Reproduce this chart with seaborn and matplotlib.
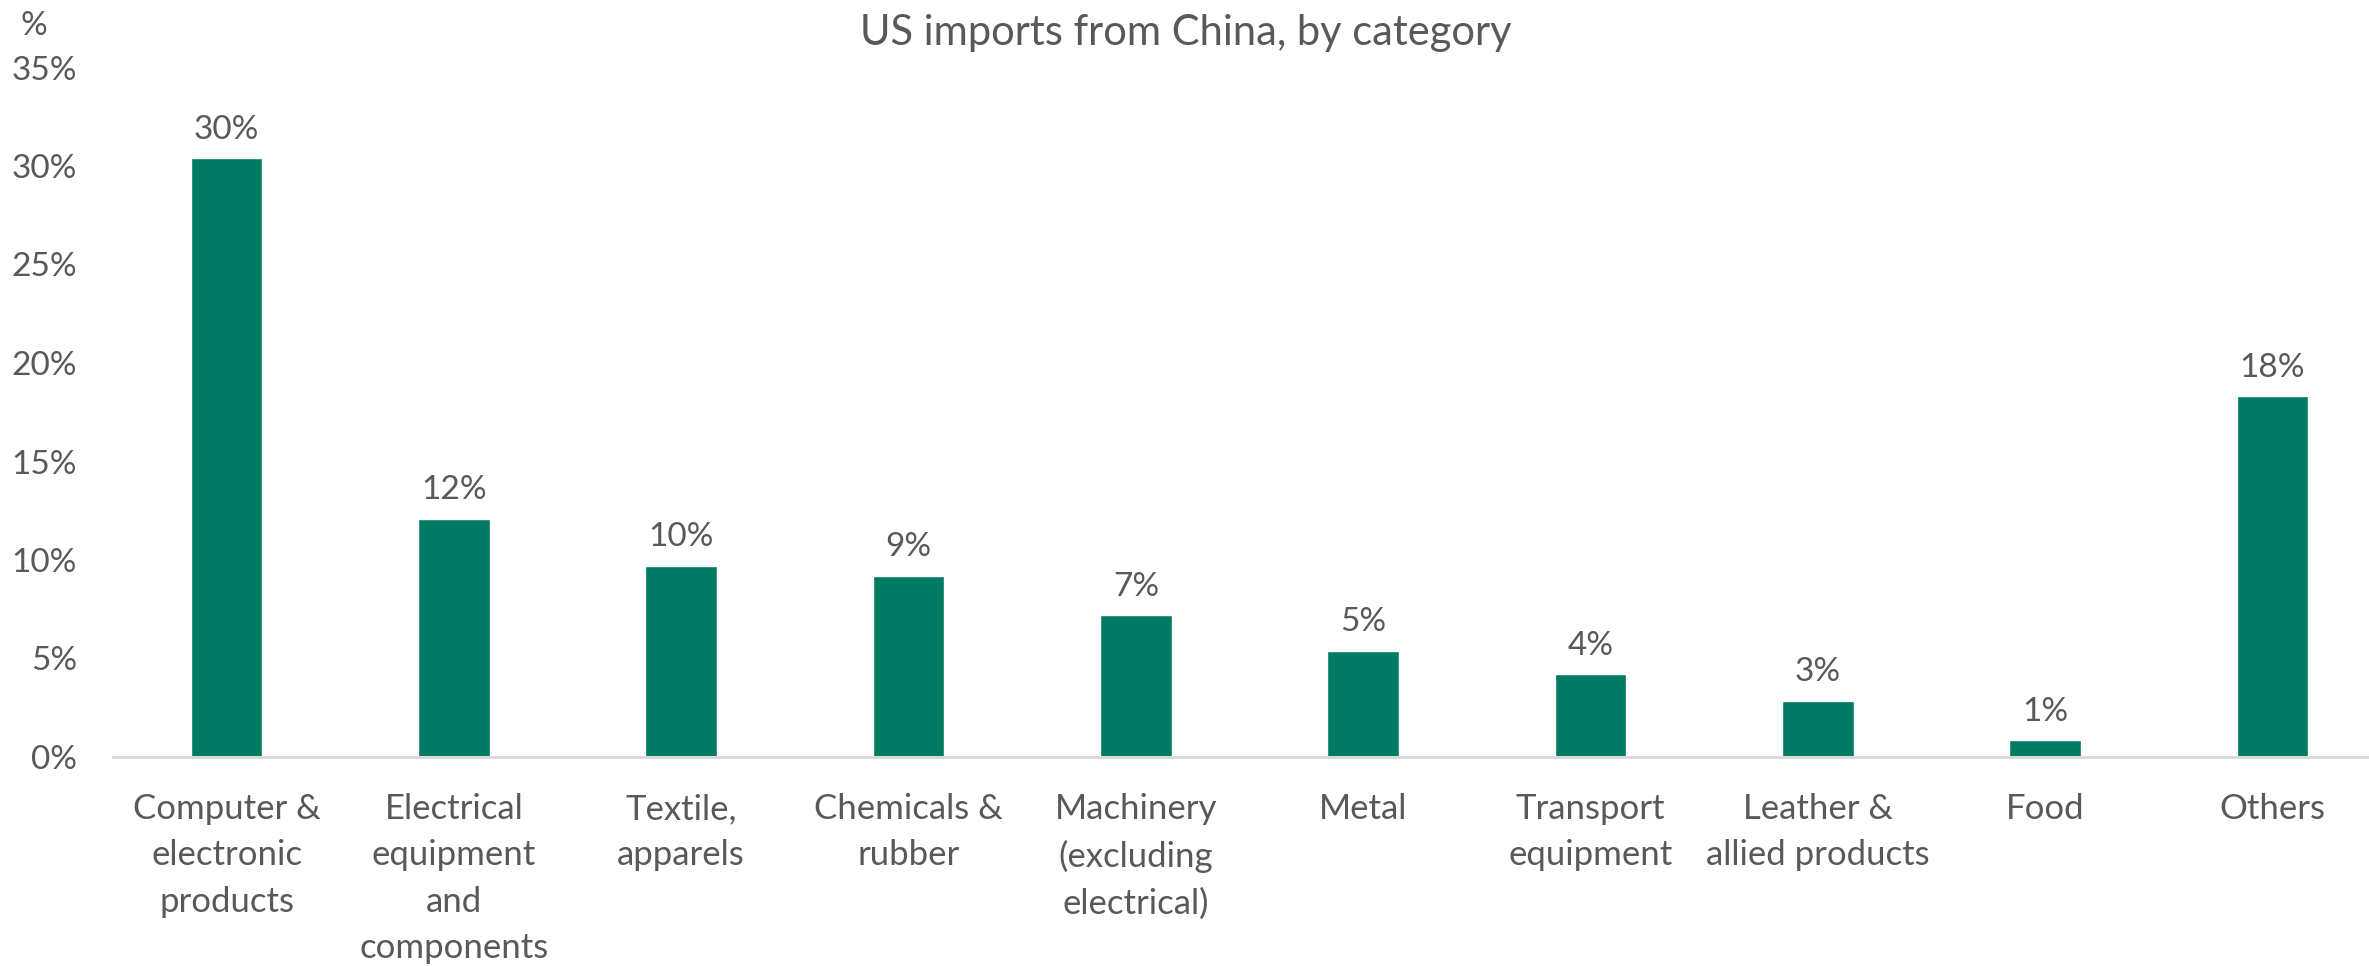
import matplotlib
matplotlib.use("Agg")
import matplotlib.pyplot as plt
import seaborn as sns
import pandas as pd

categories = [
    "Computer &\nelectronic\nproducts",
    "Electrical\nequipment\nand\ncomponents",
    "Textile,\napparels",
    "Chemicals &\nrubber",
    "Machinery\n(excluding\nelectrical)",
    "Metal",
    "Transport\nequipment",
    "Leather &\nallied products",
    "Food",
    "Others",
]
values = [30.4, 12.1, 9.7, 9.2, 7.2, 5.4, 4.2, 2.85, 0.86, 18.3]
labels = ["30%", "12%", "10%", "9%", "7%", "5%", "4%", "3%", "1%", "18%"]
yticks = [0, 5, 10, 15, 20, 25, 30, 35]
ytick_labels = ["0%", "5%", "10%", "15%", "20%", "25%", "30%", "35%"]

sns.set_theme(style="white")
plt.rcParams["font.family"] = ["Lato", "DejaVu Sans"]
TXT = "#595959"
BAR = "#007B63"

df = pd.DataFrame({"category": categories, "value": values})

fig = plt.figure(figsize=(23.69, 9.66), dpi=100)
ax = fig.add_axes([113 / 2369, (966 - 757) / 966, 2256 / 2369, (757 - 67.5) / 966])

sns.barplot(data=df, x="category", y="value", color=BAR, width=0.315,
            saturation=1, ax=ax)

ax.set_xlim(-0.5, -0.5 + 2256 / 227.3)
ax.set_ylim(0, 35)
ax.set_yticks(yticks)
ax.set_yticklabels(ytick_labels)
ax.set_xlabel("")
ax.set_ylabel("")

for s in ["top", "right", "left"]:
    ax.spines[s].set_visible(False)
ax.spines["bottom"].set_color("#D9D9D9")
ax.spines["bottom"].set_linewidth(2.2)

ax.tick_params(axis="y", length=0, pad=26, labelsize=24, labelcolor=TXT)
ax.tick_params(axis="x", length=0, pad=26, labelsize=25, labelcolor=TXT)
for t in ax.get_xticklabels():
    t.set_linespacing(1.55)
    t.set_ha("center")
    t.set_va("top")

for i, (v, lab) in enumerate(zip(values, labels)):
    ax.annotate(lab, xy=(i, v), xytext=(0, 14), textcoords="offset points",
                ha="center", va="baseline", fontsize=24, color=TXT)

fig.text(1186 / 2369, 1 - 33 / 966, "US imports from China, by category",
         ha="center", va="center", fontsize=30, color=TXT)
fig.text(20 / 2369, 1 - 26 / 966, "%", ha="left", va="center",
         fontsize=24, color=TXT)

fig.savefig("out.png", dpi=100)
